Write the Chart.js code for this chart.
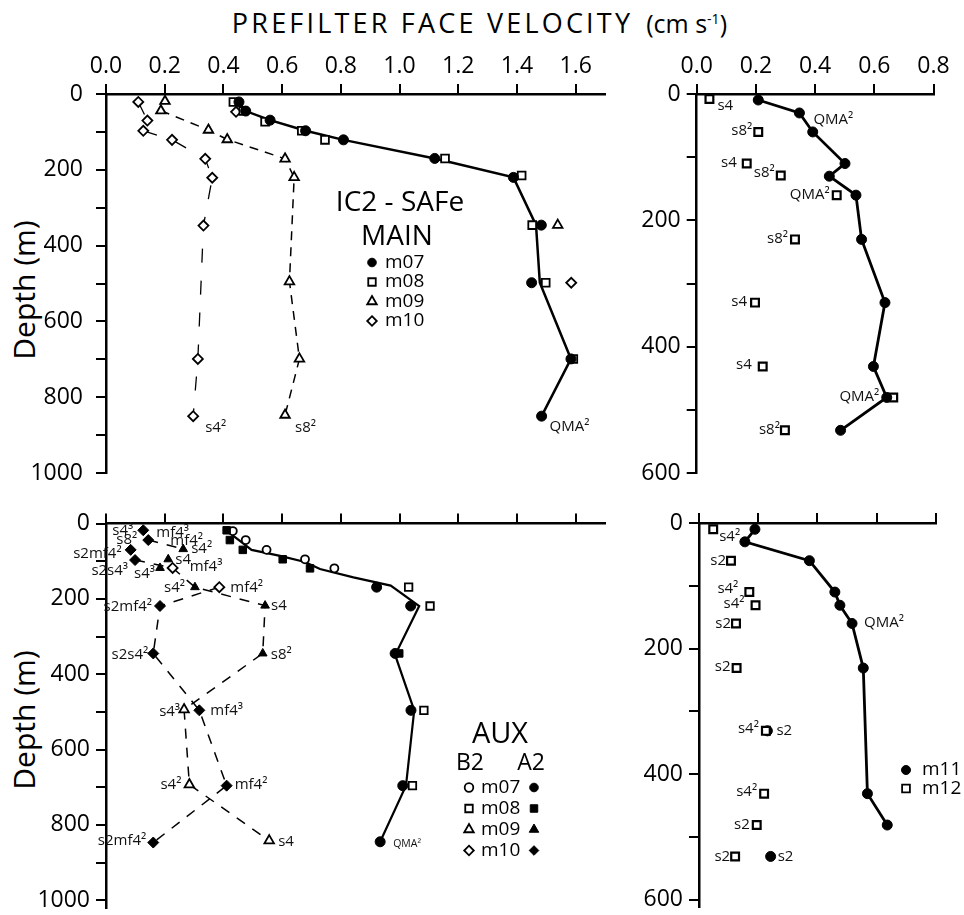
<!DOCTYPE html>
<html>
<head>
<meta charset="utf-8">
<title>Prefilter face velocity</title>
<script src="https://cdn.jsdelivr.net/npm/chart.js@4.4.1/dist/chart.umd.min.js"></script>
<style>
  body { margin: 0; background: #fff; }
  #page { position: relative; width: 964px; height: 915px; overflow: hidden; font-family: "Open Sans", sans-serif; color: #000; }
  #page canvas { position: absolute; left: 0; top: 0; }
  .title { position: absolute; top: 4px; right: 237px; font-size: 25px; white-space: nowrap; }
  .title .caps { font-size: 27px; letter-spacing: 3.2px; }
  .title sup { font-size: 14px; }
  .ylab { position: absolute; font-size: 30px; line-height: 1; white-space: nowrap; transform: translate(-50%, -50%) rotate(-90deg); }
</style>
</head>
<body>
<div id="page">
  <div class="title"><span class="caps">PREFILTER FACE VELOCITY</span>&nbsp;&nbsp;(cm s<sup>-1</sup>)</div>
  <div class="ylab" style="left:24px;top:290px">Depth (m)</div>
  <div class="ylab" style="left:24px;top:720px">Depth (m)</div>
  <canvas id="tl" width="964" height="915"></canvas>
  <canvas id="tr" width="964" height="915"></canvas>
  <canvas id="bl" width="964" height="915"></canvas>
  <canvas id="br" width="964" height="915"></canvas>
</div>
<script>
const FONT = '"Open Sans", sans-serif';

// ---- MAIN (top left) ----
const mainM07Dep = [21, 45, 69, 97, 121, 170, 220, 346, 498, 699, 850];
const mainM07Vel = [0.453, 0.476, 0.559, 0.68, 0.809, 1.12, 1.388, 1.483, 1.45, 1.584, 1.484];
const mainM08Dep = [21, 45, 73, 97, 121, 170, 215, 346, 498, 699];
const mainM08Vel = [0.434, 0.468, 0.542, 0.667, 0.746, 1.155, 1.416, 1.452, 1.498, 1.592];
const mainM09Dep = [19, 44, 95, 120, 171, 220, 495, 699, 847];
const mainM09Vel = [0.201, 0.187, 0.349, 0.413, 0.61, 0.641, 0.625, 0.659, 0.61];
const mainM09ExtraDep = [346];
const mainM09ExtraVel = [1.539];
const mainM10Dep = [21, 70, 97, 121, 171, 221, 347, 699, 850];
const mainM10Vel = [0.11, 0.141, 0.127, 0.225, 0.338, 0.362, 0.332, 0.313, 0.297];
const mainM10ExtraDep = [47, 498];
const mainM10ExtraVel = [0.443, 1.585];
const mainLineDep = [21, 45, 69, 97, 121, 170, 220, 346, 498, 699, 850];
const mainLineVel = [0.453, 0.476, 0.559, 0.68, 0.809, 1.12, 1.388, 1.465, 1.478, 1.584, 1.484];
const mainM07Note = ['', '', '', '', '', '', '', '', '', '', 'QMA²'];
const mainM09Note = ['', '', '', '', '', '', '', '', 's8²'];
const mainM10Note = ['', '', '', '', '', '', '', '', 's4²'];
const mainKeys = ['m07', 'm08', 'm09', 'm10'];

// ---- MAIN (top right) ----
const qmaDep = [9.5, 30, 60, 110, 130, 160, 230, 330, 431, 480, 532];
const qmaVel = [0.208, 0.347, 0.392, 0.501, 0.448, 0.538, 0.557, 0.636, 0.597, 0.642, 0.486];
const qmaNote = ['', 'QMA²', '', '', '', '', '', '', '', '', ''];
const sqDep = [8, 60, 110, 129, 160, 230, 330, 431, 480, 532];
const sqVel = [0.043, 0.208, 0.169, 0.284, 0.473, 0.332, 0.197, 0.223, 0.664, 0.298];
const sqNote = ['s4', 's8²', 's4', 's8²', 'QMA²', 's8²', 's4', 's4', 'QMA²', 's8²'];

// ---- AUX (bottom left) ----
const auxB07Dep = [20, 44, 70, 95, 119];
const auxB07Vel = [0.432, 0.476, 0.547, 0.678, 0.778];
const auxA08Dep = [18, 44, 70, 95, 119, 345];
const auxA08Vel = [0.411, 0.422, 0.466, 0.602, 0.695, 0.999];
const auxA07Dep = [169, 219, 345, 496, 696, 845];
const auxA07Vel = [0.922, 1.038, 0.985, 1.039, 1.011, 0.934];
const auxB08Dep = [169, 219, 496, 696];
const auxB08Vel = [1.031, 1.104, 1.083, 1.044];
const auxLineDep = [18, 33, 70, 86, 102, 121, 143, 165, 219, 349, 496, 696, 845];
const auxLineVel = [0.411, 0.434, 0.496, 0.593, 0.678, 0.729, 0.843, 0.97, 1.067, 0.985, 1.05, 1.022, 0.934];
const auxA09Dep = [68, 95, 118, 169, 218, 345];
const auxA09Vel = [0.263, 0.212, 0.184, 0.303, 0.542, 0.534];
const auxB09Dep = [494, 693, 842];
const auxB09Vel = [0.266, 0.284, 0.556];
const auxA10Dep = [18, 44, 70, 97, 219, 345, 496, 696, 847];
const auxA10Vel = [0.127, 0.144, 0.084, 0.099, 0.184, 0.161, 0.318, 0.411, 0.161];
const auxB10Dep = [118, 169];
const auxB10Vel = [0.227, 0.386];
const auxDash1Dep = [44, 68];
const auxDash1Vel = [0.144, 0.263];
const auxDash2Dep = [97, 118, 169, 218, 345, 494, 693, 842];
const auxDash2Vel = [0.099, 0.227, 0.303, 0.542, 0.534, 0.266, 0.284, 0.556];
const auxDash3Dep = [169, 219, 345, 496, 696, 847];
const auxDash3Vel = [0.386, 0.184, 0.161, 0.318, 0.411, 0.161];
const auxA07Note = ['', '', '', '', '', 'QMA²'];
const auxA09Note = ['s4²', 's4', 's4³', 's4²', 's4', 's8²'];
const auxB09Note = ['s4³', 's4²', 's4'];
const auxA10NoteL = ['s4³', 's8²', 's2mf4²', 's2s4³', 's2mf4²', 's2s4²', '', '', 's2mf4²'];
const auxA10NoteR = ['mf4³', 'mf4²', '', '', '', '', 'mf4³', 'mf4²', ''];
const auxB10Note = ['mf4³', 'mf4²'];

// ---- bottom right ----
const m11Dep = [10, 30, 60, 110, 131, 160, 231, 331, 431, 481, 531];
const m11Vel = [0.189, 0.155, 0.373, 0.459, 0.476, 0.517, 0.555, 0.231, 0.569, 0.636, 0.242];
const m11LineDep = [10, 30, 60, 110, 131, 160, 231, 431, 481];
const m11LineVel = [0.189, 0.155, 0.373, 0.459, 0.476, 0.517, 0.555, 0.569, 0.636];
const m11Note = ['', '', '', '', '', 'QMA²', '', 's2', '', '', 's2'];
const m12Dep = [10, 60, 110, 131, 160, 231, 331, 431, 481, 531];
const m12Vel = [0.048, 0.108, 0.170, 0.191, 0.125, 0.127, 0.226, 0.220, 0.195, 0.122];
const m12Note = ['s4²', 's2', 's4²', 's4²', 's2', 's2', 's4²', 's4²', 's2', 's2'];

function xy(vel, dep) {
  return vel.map((v, i) => ({ x: v, y: dep[i] }));
}

function marks(vel, dep, shape, filled, r, extra) {
  return Object.assign({
    data: xy(vel, dep),
    showLine: false,
    order: 1,
    clip: false,
    pointStyle: shape,
    pointRadius: r,
    pointHoverRadius: r,
    pointBackgroundColor: filled ? '#000' : '#fff',
    pointBorderColor: '#000',
    pointBorderWidth: filled ? 1 : 1.8
  }, extra || {});
}

function line(vel, dep, width, dash) {
  return {
    data: xy(vel, dep),
    showLine: true,
    order: 2,
    clip: false,
    pointRadius: 0,
    pointHoverRadius: 0,
    borderColor: '#000',
    borderWidth: width,
    borderDash: dash || []
  };
}

// little marker painter for the legends
function drawMark(ctx, shape, x, y, r, filled) {
  ctx.beginPath();
  if (shape === 'circle') {
    ctx.arc(x, y, r, 0, Math.PI * 2);
  } else if (shape === 'rect') {
    const s = r * Math.SQRT1_2;
    ctx.rect(x - s, y - s, 2 * s, 2 * s);
  } else if (shape === 'triangle') {
    for (let k = 0; k < 3; k++) {
      const a = k * 2 * Math.PI / 3;
      const px = x + Math.sin(a) * r, py = y - Math.cos(a) * r;
      k ? ctx.lineTo(px, py) : ctx.moveTo(px, py);
    }
    ctx.closePath();
  } else {
    ctx.moveTo(x, y - r); ctx.lineTo(x + r, y); ctx.lineTo(x, y + r); ctx.lineTo(x - r, y);
    ctx.closePath();
  }
  ctx.fillStyle = filled ? '#000' : '#fff';
  ctx.fill();
  ctx.lineWidth = filled ? 1 : 1.8;
  ctx.strokeStyle = '#000';
  ctx.stroke();
}

// text tags beside points (s4², QMA² ...)
const notesPlugin = {
  id: 'notes',
  afterDatasetsDraw(chart) {
    const ctx = chart.ctx;
    chart.data.datasets.forEach((d, di) => {
      if (!d.notes) return;
      const meta = chart.getDatasetMeta(di);
      d.notes.forEach(n => {
        n.text.forEach((t, i) => {
          if (!t) return;
          const p = meta.data[i];
          const off = n.off[i] || [8, 0];
          ctx.save();
          ctx.font = (n.size || 15) + 'px ' + FONT;
          ctx.fillStyle = '#111';
          ctx.textAlign = off[0] < 0 ? 'right' : 'left';
          ctx.textBaseline = 'middle';
          ctx.fillText(t, p.x + off[0], p.y + off[1]);
          ctx.restore();
        });
      });
    });
  }
};

// panel titles + legend boxes
const keysPlugin = {
  id: 'keys',
  afterDraw(chart, args, o) {
    if (!o || !o.items) return;
    const ctx = chart.ctx;
    o.items.forEach(it => {
      if (it.mark) {
        drawMark(ctx, it.mark, it.x, it.y, it.r, it.filled);
      } else {
        ctx.font = it.size + 'px ' + FONT;
        ctx.textAlign = it.align || 'left';
        ctx.textBaseline = 'middle';
        ctx.fillStyle = '#000';
        ctx.fillText(it.text, it.x, it.y);
      }
    });
  }
};

function panel(id, box, xMax, yMax, cfg) {
  const axisW = 100, axisH = 40;
  return new Chart(document.getElementById(id), {
    type: 'scatter',
    data: { datasets: cfg.datasets },
    options: {
      responsive: false,
      animation: false,
      events: [],
      layout: { padding: { left: box.l - axisW, top: box.t - axisH, right: 964 - box.r, bottom: 915 - box.b } },
      plugins: { legend: { display: false }, tooltip: { enabled: false }, keys: { items: cfg.keys || [] } },
      scales: {
        x: {
          type: 'linear', position: 'top', min: 0, max: xMax,
          afterFit: s => { s.height = axisH; s.paddingLeft = 0; s.paddingRight = 0; },
          grid: { drawOnChartArea: false, color: '#000', lineWidth: 2, tickLength: 10 },
          border: { color: '#000', width: 2.5 },
          ticks: {
            stepSize: 0.2, includeBounds: false, autoSkip: false, maxRotation: 0, padding: 4,
            color: '#000', font: { family: FONT, size: 23 },
            callback: v => cfg.xLabels ? v.toFixed(1) : ''
          }
        },
        y: {
          type: 'linear', reverse: true, min: 0, max: yMax,
          afterFit: s => { s.width = axisW; s.paddingTop = 0; s.paddingBottom = 0; },
          grid: { drawOnChartArea: false, color: '#000', lineWidth: 2, tickLength: 10 },
          border: { color: '#000', width: 2.5 },
          ticks: {
            stepSize: 100, includeBounds: false, autoSkip: false, padding: cfg.yPad || 6,
            color: '#000', font: { family: FONT, size: 23 },
            callback: v => (v % 200 === 0 ? String(v) : '')
          }
        }
      }
    },
    plugins: [notesPlugin, keysPlugin]
  });
}

function legendRows(keys, x0, y0, dy, tx, size, shapes, filled, x2) {
  const out = [];
  keys.forEach((k, i) => {
    const y = y0 + dy * i;
    out.push({ mark: shapes[i].s, r: shapes[i].r, x: x0, y: y, filled: filled || shapes[i].s === 'circle' && x2 === undefined });
    out.push({ text: k, x: tx, y: y, size: size });
    if (x2) out.push({ mark: shapes[i].s, r: shapes[i].r, x: x2, y: y, filled: true });
  });
  return out;
}

const SH = [{ s: 'circle', r: 4.3 }, { s: 'rect', r: 5.3 }, { s: 'triangle', r: 5.5 }, { s: 'rectRot', r: 4.8 }];

// top left
panel('tl', { l: 106, t: 94, r: 605, b: 473 }, 1.7, 1000, {
  xLabels: true,
  yPad: 13,
  datasets: [
    marks(mainM07Vel, mainM07Dep, 'circle', true, 5, { notes: [{ text: mainM07Note, off: { 10: [8, 11] } }] }),
    marks(mainM08Vel, mainM08Dep, 'rect', false, 5.5),
    marks(mainM09Vel, mainM09Dep, 'triangle', false, 5.5, { notes: [{ text: mainM09Note, off: { 8: [10, 13] } }] }),
    marks(mainM09ExtraVel, mainM09ExtraDep, 'triangle', false, 5.5),
    marks(mainM10Vel, mainM10Dep, 'rectRot', false, 5, { notes: [{ text: mainM10Note, off: { 8: [12, 12] } }] }),
    marks(mainM10ExtraVel, mainM10ExtraDep, 'rectRot', false, 5),
    line(mainLineVel, mainLineDep, 2.5),
    line(mainM09Vel.slice(1), mainM09Dep.slice(1), 1.5, [9, 7]),
    line(mainM10Vel, mainM10Dep, 1.3, [14, 18])
  ],
  keys: [
    { text: 'IC2 - SAFe', x: 400, y: 203, size: 28, align: 'center' },
    { text: 'MAIN', x: 397, y: 237, size: 28, align: 'center' }
  ].concat(legendRows(mainKeys, 372, 262.5, 19.5, 385, 19, SH, false))
});

// top right
panel('tr', { l: 696.7, t: 94, r: 933.5, b: 473.3 }, 0.8, 600, {
  xLabels: true,
  datasets: [
    marks(qmaVel, qmaDep, 'circle', true, 5, { notes: [{ text: qmaNote, off: { 1: [14, 7] } }] }),
    marks(sqVel, sqDep, 'rect', false, 5.5, {
      pointBorderWidth: 2.2,
      notes: [{ text: sqNote, off: [[8, 7], [-6, -1], [-10, -1], [-6, -3], [-7, 0], [-7, -1], [-8, -1], [-11, -2], [-14, -1], [-5, -1]] }]
    }),
    line(qmaVel, qmaDep, 2.8)
  ]
});

// bottom left
panel('bl', { l: 106, t: 523.5, r: 605, b: 911 }, 1.7, 1020, {
  xLabels: false,
  datasets: [
    marks(auxA07Vel, auxA07Dep, 'circle', true, 5, { notes: [{ text: auxA07Note, off: { 5: [13, 2] }, size: 10.5 }] }),
    marks(auxA08Vel, auxA08Dep, 'rect', true, 5.3),
    marks(auxB07Vel, auxB07Dep, 'circle', false, 4),
    marks(auxB08Vel, auxB08Dep, 'rect', false, 5.3),
    marks(auxA09Vel, auxA09Dep, 'triangle', true, 5, {
      notes: [{ text: auxA09Note, off: [[8, 0], [7, 0], [-5, 6], [-10, 1], [6, 0], [8, 1]] }]
    }),
    marks(auxB09Vel, auxB09Dep, 'triangle', false, 5.5, {
      notes: [{ text: auxB09Note, off: [[-4, 2], [-8, 0], [9, 1]] }]
    }),
    marks(auxA10Vel, auxA10Dep, 'rectRot', true, 5.5, {
      notes: [
        { text: auxA10NoteL, off: [[-10, 0], [-11, 0], [-9, 4], [-7, 11], [-8, 1], [-5, 1], null, null, [-7, -2]] },
        { text: auxA10NoteR, off: [[13, 2], [22, 1], null, null, null, null, [11, 0], [8, -1], null] }
      ]
    }),
    marks(auxB10Vel, auxB10Dep, 'rectRot', false, 5, {
      notes: [{ text: auxB10Note, off: [[17, -1], [11, 1]] }]
    }),
    line(auxLineVel, auxLineDep, 2.2),
    line(auxDash1Vel, auxDash1Dep, 1.5, [10, 9]),
    line(auxDash2Vel, auxDash2Dep, 1.5, [10, 9]),
    line(auxDash3Vel, auxDash3Dep, 1.5, [10, 9])
  ],
  keys: [
    { text: 'AUX', x: 500, y: 735, size: 29, align: 'center' },
    { text: 'B2', x: 470, y: 763, size: 23, align: 'center' },
    { text: 'A2', x: 531, y: 763, size: 23, align: 'center' }
  ].concat(legendRows(mainKeys, 469, 787.5, 21, 481, 19, SH, false, 534))
});

// bottom right
panel('br', { l: 699, t: 523, r: 935.8, b: 910.4 }, 0.8, 612, {
  xLabels: false,
  datasets: [
    marks(m12Vel, m12Dep, 'rect', false, 5.5, {
      pointBorderWidth: 2.2,
      notes: [{ text: m12Note, off: [[6, 7], [-5, 0], [-11, -3], [-11, -2], [-5, 0], [-6, -1], [-7, -2], [-7, -2], [-7, 0], [-5, 0]] }]
    }),
    marks(m11Vel, m11Dep, 'circle', true, 5, {
      notes: [{ text: m11Note, off: { 5: [12, -1], 7: [9, 0], 10: [7, 0] } }]
    }),
    line(m11LineVel, m11LineDep, 2.8)
  ],
  keys: [
    { mark: 'circle', r: 4.5, x: 906, y: 770, filled: true },
    { text: 'm11', x: 922, y: 770, size: 19 },
    { mark: 'rect', r: 5.5, x: 906, y: 788.5, filled: false },
    { text: 'm12', x: 922, y: 788.5, size: 19 }
  ]
});
</script>
</body>
</html>
